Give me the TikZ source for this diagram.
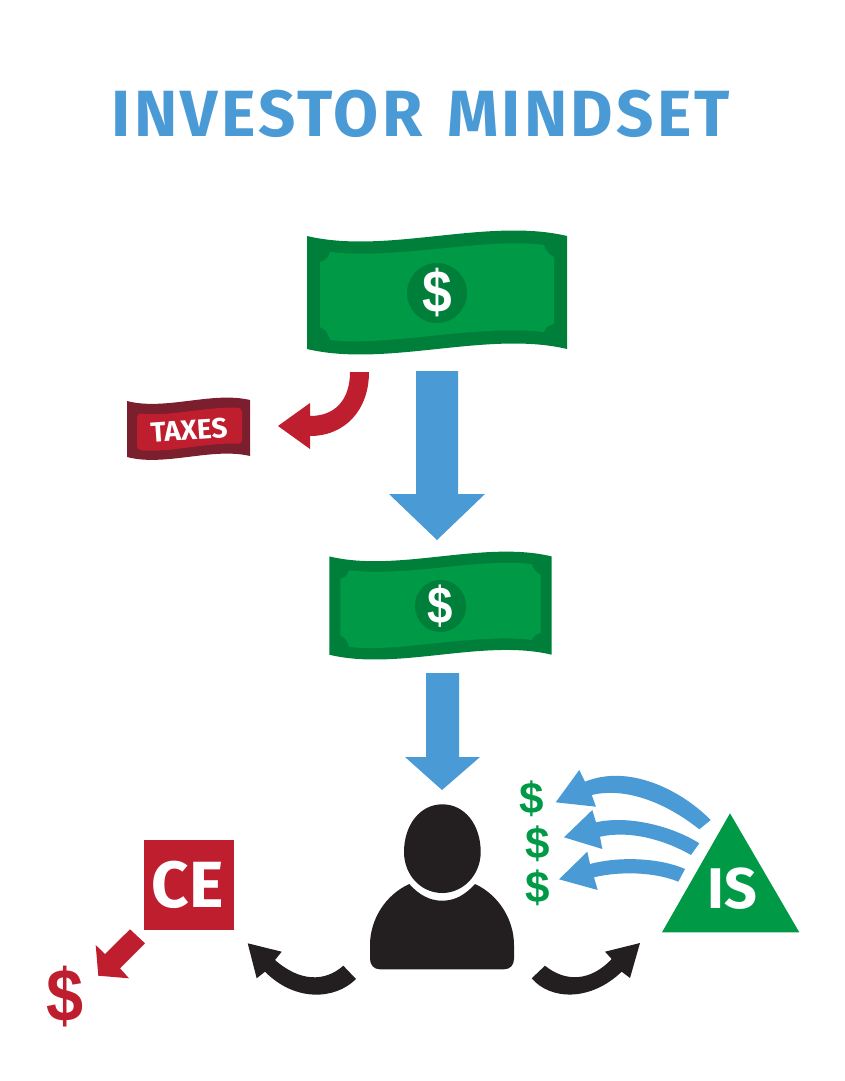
\documentclass[tikz,border=0pt]{standalone}
\usepackage{fontspec}
\setmainfont{Fira Sans}
\newfontfamily\titlefont[LetterSpace=5,WordSpace=1.3]{Fira Sans}
\newfontfamily\signfont{Liberation Sans}

\definecolor{moneygreen}{HTML}{009A46}
\definecolor{billgreen}{HTML}{007F3A}
\definecolor{taxred}{HTML}{BE1E2D}
\definecolor{taxdark}{HTML}{7B1E2E}
\definecolor{flowblue}{HTML}{4A9AD6}
\definecolor{inkblack}{HTML}{231F20}

\tikzset{
	label/.style = {inner sep=0pt, font=\bfseries},
	signlabel/.style = {inner sep=0pt, yscale=1.12},
	smallsign/.style = {inner sep=0pt, text=moneygreen, font=\signfont\bfseries\fontsize{33}{33}\selectfont},
	bill/.pic = {
		\fill[billgreen] (-130,-57) .. controls (-50,-38) and (50,-76) .. (130,-57)
			-- (130,56) .. controls (50,37) and (-50,75) .. (-130,56) -- cycle;
		\fill[moneygreen] (-107,-41) .. controls (-40,-33) and (50,-56) .. (107,-48)
			.. controls (108,-43) and (112,-38) .. (117,-36)
			-- (117,31) .. controls (112,32) and (108,35) .. (107,39)
			.. controls (40,31) and (-50,54) .. (-107,47)
			.. controls (-108,41) and (-112,36) .. (-117,34)
			-- (-117,-31) .. controls (-112,-32) and (-108,-36) .. (-107,-41) -- cycle;
		\fill[billgreen] (0,0) circle [radius=30];
		\node[signlabel, text=white, font=\signfont\bfseries\fontsize{40}{40}\selectfont, transform shape] (sign) at (0,0) {\$};
	}
}

\begin{document}
\begin{tikzpicture}[x=0.75pt, y=-0.75pt]
	\useasboundingbox (0,0) rectangle (844,1081);

	\node[label, text=flowblue, font=\titlefont\bfseries\fontsize{49}{49}\selectfont] (title) at (421,114) {INVESTOR MINDSET};

	\pic (topbill) at (437,293) {bill};
	\pic[xscale=.855, yscale=.87] (netbill) at (440.5,606) {bill};

	\fill[taxdark] (127,401) .. controls (165,411) and (212,391) .. (250,400)
		-- (250,456) .. controls (212,447) and (165,467) .. (127,457) -- cycle;
	\fill[taxred, rounded corners=3pt] (137,413) .. controls (170,417) and (208,406) .. (242,408)
		-- (242,444) .. controls (208,442) and (170,453) .. (137,450) -- cycle;
	\node[label, text=white, rotate=4, font=\bfseries\fontsize{21}{21}\selectfont] (taxes) at (189,430) {TAXES};

	\fill[taxred] (369,372) .. controls (369,410) and (345,436) .. (310,436)
		-- (310,449) -- (278,426) -- (310,403) -- (310,416)
		.. controls (335,416) and (350,400) .. (350,372) -- cycle;

	\fill[flowblue] (416,371) -- (458,371) -- (458,494) -- (485,494) -- (437,540) -- (389,494) -- (416,494) -- cycle;
	\fill[flowblue] (426,673) -- (459,673) -- (459,757) -- (480,757) -- (442,790) -- (405,757) -- (426,757) -- cycle;

	\fill[inkblack] (442.3,804.3) .. controls (465,804.3) and (480.7,825) .. (480.7,852)
		.. controls (480.7,875) and (463,893) .. (442.3,893)
		.. controls (421,893) and (404,875) .. (404,852)
		.. controls (404,825) and (420,804.3) .. (442.3,804.3) -- cycle;
	\fill[inkblack] (409.3,884) .. controls (385,895) and (370,920) .. (370,945) -- (370,959)
		.. controls (370,965) and (374,969.3) .. (380,969.3) -- (504,969.3)
		.. controls (510,969.3) and (514,965) .. (514,959) -- (514,945)
		.. controls (514,920) and (499,895) .. (475,884)
		.. controls (465,895) and (455,900.7) .. (442,900.7)
		.. controls (430,900.7) and (419,895) .. (409.3,884) -- cycle;

	\fill[taxred] (143.7,840) rectangle (234,930);
	\node[label, text=white, font=\bfseries\fontsize{49}{49}\selectfont] (ce) at (187.5,885) {CE};

	\fill[moneygreen] (730,813.3) -- (799.3,932.3) -- (662,932.3) -- cycle;
	\node[label, text=white, font=\bfseries\fontsize{43}{43}\selectfont] (is) at (732.5,889) {IS};

	\fill[taxred] (130,929.3) -- (145,943.3) -- (120,968.3) -- (129,978.3) -- (98.3,975.7) -- (95.7,945) -- (105,954) -- cycle;
	\node[signlabel, text=taxred, font=\signfont\bfseries\fontsize{50}{50}\selectfont] (lostsign) at (65,996.7) {\$};

	\fill[inkblack] (343.3,965.7) .. controls (325,982) and (300,982) .. (275,960)
		-- (281.7,951.7) -- (247.7,943.3) -- (256.7,978.3) -- (265,971.7)
		.. controls (295,1002) and (335,1000) .. (356,979) -- cycle;
	\fill[inkblack] (545,965.7) .. controls (565,982) and (590,982) .. (611.7,959)
		-- (605,951.7) -- (640,943) -- (630,978) -- (621.7,971.7)
		.. controls (590,1002) and (550,1000) .. (531.7,978.3) -- cycle;

	\node[smallsign] (signa) at (532,799) {\$};
	\node[smallsign] (signb) at (538,844) {\$};
	\node[smallsign] (signc) at (538,888) {\$};

	\fill[flowblue] (710.7,820) .. controls (680,789) and (628,764) .. (585,781.7)
		-- (579.3,770) -- (555.7,802.3) -- (596,806.7) -- (591.7,795)
		.. controls (625,787) and (665,802) .. (699.3,829.3) -- cycle;
	\fill[flowblue] (699.3,843.3) .. controls (672,826) and (628,815) .. (596,822.3)
		-- (592.3,810) -- (564,837.3) -- (602.3,849) -- (600,836.7)
		.. controls (630,830) and (665,840) .. (691,855) -- cycle;
	\fill[flowblue] (685,869) .. controls (660,858) and (620,856) .. (590,864)
		-- (587.3,851.7) -- (559,879.3) -- (597.7,890) -- (594,877.3)
		.. controls (620,871) and (655,872) .. (678.3,881.7) -- cycle;
\end{tikzpicture}
\end{document}
